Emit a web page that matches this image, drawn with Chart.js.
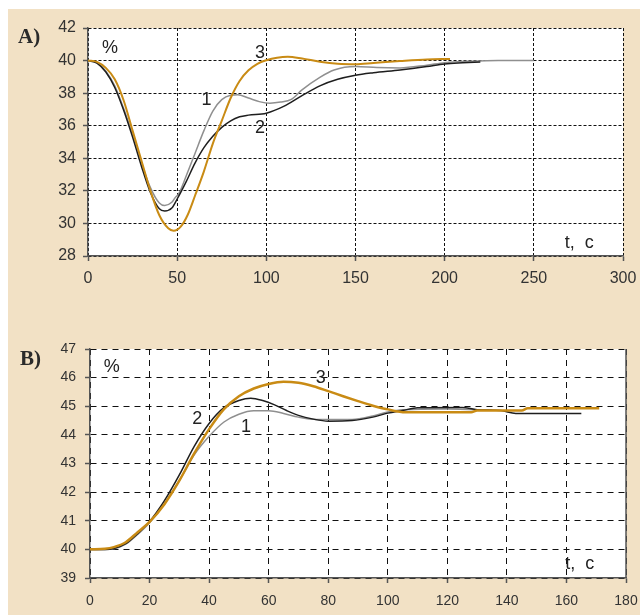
<!DOCTYPE html>
<html lang="ru">
<head>
<meta charset="UTF-8">
<title>Переходные процессы</title>
<style>
    body { margin: 0; width: 640px; height: 615px; background: #ffffff; position: relative; overflow: hidden; }
    .panel { position: absolute; left: 8px; top: 9px; width: 632px; height: 606px; background: #F2E1C5; }
    canvas { position: absolute; left: 8px; }
    #chartA { top: 9px; }
    #chartB { top: 297px; }
    .tag { position: absolute; font-family: 'Liberation Serif', 'DejaVu Serif', serif; font-weight: bold; font-size: 21px; color: #2a2a2a; }
</style>
</head>
<body>
<div class="panel"></div>
<canvas id="chartA" width="632" height="288"></canvas>
<canvas id="chartB" width="632" height="318"></canvas>
<div class="tag" style="left:18px; top:24px;">A)</div>
<div class="tag" style="left:20px; top:346px;">B)</div>

<script src="https://cdn.jsdelivr.net/npm/chart.js"></script>
<script>
    // ---- график A ----
    const tA1 = [0, 5, 10, 15, 20, 25, 30, 35, 40, 43, 47, 49, 51, 55, 60, 65, 70, 75, 80, 84, 90, 96, 102, 108, 114, 120, 130, 138, 150, 162, 175, 190, 200, 215, 230, 250];
    const yA1 = [40, 39.87, 39.35, 38.45, 37.05, 35.45, 33.7, 32.2, 31.25, 31.1, 31.3, 31.6, 31.85, 32.9, 34.3, 35.7, 36.9, 37.6, 37.87, 37.9, 37.7, 37.48, 37.38, 37.45, 37.62, 38.2, 38.97, 39.42, 39.63, 39.57, 39.55, 39.72, 39.87, 39.96, 40.0, 40.0];

    const tA2 = [0, 5, 10, 15, 20, 25, 30, 35, 40, 43, 47, 50, 55, 60, 65, 70, 75, 80, 85, 90, 100, 110, 120, 130, 140, 150, 160, 175, 190, 200, 210, 220];
    const yA2 = [40, 39.85, 39.3, 38.35, 36.95, 35.3, 33.5, 31.9, 30.9, 30.77, 30.95, 31.5, 32.55, 33.7, 34.65, 35.35, 35.9, 36.3, 36.55, 36.65, 36.77, 37.2, 37.85, 38.45, 38.85, 39.1, 39.25, 39.42, 39.63, 39.79, 39.86, 39.91];

    const tA3 = [0, 5, 10, 15, 20, 25, 30, 35, 40, 45, 48, 52, 56, 60, 65, 70, 75, 80, 85, 90, 95, 100, 106, 112, 120, 130, 140, 150, 160, 175, 190, 203];
    const yA3 = [40, 39.92, 39.55, 38.85, 37.55, 35.7, 33.85, 32.0, 30.5, 29.7, 29.55, 29.8, 30.55, 31.7, 33.2, 34.9, 36.3, 37.7, 38.75, 39.4, 39.8, 40.02, 40.18, 40.24, 40.13, 39.93, 39.8, 39.77, 39.85, 39.97, 40.07, 40.1];

    // ---- график B ----
    const tB1 = [0, 5, 8, 12, 16, 20, 25, 30, 35, 40, 45, 50, 55, 60, 65, 70, 76, 88, 95, 100, 105, 120, 135];
    const yB1 = [40, 40.0, 40.02, 40.18, 40.52, 40.93, 41.6, 42.4, 43.3, 43.95, 44.45, 44.72, 44.84, 44.84, 44.75, 44.62, 44.54, 44.54, 44.66, 44.8, 44.88, 44.9, 44.86];

    const tB2 = [0, 5, 8, 12, 16, 20, 25, 30, 35, 40, 45, 50, 54, 58, 62, 66, 70, 75, 80, 88, 95, 100, 105, 110, 125, 130, 138, 143, 165];
    const yB2 = [40, 40.0, 40.03, 40.2, 40.55, 40.97, 41.7, 42.6, 43.6, 44.4, 44.95, 45.2, 45.28, 45.2, 45.05, 44.85, 44.68, 44.55, 44.48, 44.5, 44.62, 44.76, 44.85, 44.95, 44.96, 44.88, 44.85, 44.75, 44.75];

    const tB3 = [0, 5, 8, 12, 16, 20, 25, 30, 35, 40, 45, 50, 55, 60, 65, 70, 75, 80, 85, 90, 95, 100, 106, 128, 130, 145, 147, 171];
    const yB3 = [40, 40.02, 40.08, 40.25, 40.6, 40.96, 41.58, 42.4, 43.35, 44.2, 44.9, 45.35, 45.62, 45.78, 45.86, 45.82, 45.7, 45.53, 45.35, 45.18, 45.02, 44.89, 44.79, 44.79, 44.85, 44.85, 44.93, 44.93];

    const xTicksA = [0, 50, 100, 150, 200, 250, 300];
    const yTicksA = [28, 30, 32, 34, 36, 38, 40, 42];
    const xTicksB = [0, 20, 40, 60, 80, 100, 120, 140, 160, 180];
    const yTicksB = [39, 40, 41, 42, 43, 44, 45, 46, 47];

    const ORANGE = '#C98B14';
    const DARK = '#1e1e1e';
    const GRAY = '#8f8f8f';
    const FONT = "'Liberation Sans', Arial, sans-serif";

    function pts(ts, ys) {
        return ts.map((t, i) => ({ x: t, y: ys[i] }));
    }

    function line(data, color, width) {
        return {
            data: data,
            borderColor: color,
            borderWidth: width,
            pointRadius: 0,
            fill: false,
            cubicInterpolationMode: 'monotone'
        };
    }

    // подписи кривых и осей
    const notesPlugin = {
        id: 'notes',
        afterDatasetsDraw(chart, args, opts) {
            const ctx = chart.ctx;
            const sx = chart.scales.x, sy = chart.scales.y;
            ctx.save();
            ctx.fillStyle = '#222';
            ctx.font = opts.size + 'px ' + FONT;
            ctx.textAlign = 'center';
            ctx.textBaseline = 'middle';
            opts.items.forEach(n => {
                ctx.fillText(n.text, sx.getPixelForValue(n.t), sy.getPixelForValue(n.v));
            });
            ctx.restore();
        }
    };

    // сплошная правая граница (для графика B)
    const rightEdge = {
        id: 'rightEdge',
        afterDraw(chart, args, opts) {
            if (!opts.on) return;
            const a = chart.chartArea, ctx = chart.ctx;
            ctx.save();
            ctx.strokeStyle = '#555';
            ctx.lineWidth = 1.5;
            ctx.beginPath();
            ctx.moveTo(a.right, a.top);
            ctx.lineTo(a.right, a.bottom);
            ctx.stroke();
            ctx.restore();
        }
    };

    function makeChart(id, sets, cfg) {
        new Chart(document.getElementById(id), {
            type: 'line',
            data: { datasets: sets },
            options: {
                responsive: false,
                animation: false,
                devicePixelRatio: 1,
                layout: { padding: cfg.padding },
                plugins: {
                    legend: { display: false },
                    tooltip: { enabled: false },
                    notes: { items: cfg.notes, size: 18 },
                    rightEdge: { on: cfg.solidRight }
                },
                scales: {
                    x: {
                        type: 'linear',
                        min: cfg.xTicks[0],
                        max: cfg.xTicks[cfg.xTicks.length - 1],
                        afterBuildTicks: s => { s.ticks = cfg.xTicks.map(v => ({ value: v })); },
                        afterFit: s => {
                            s.height = cfg.xHeight;
                            s.paddingLeft = 0;
                            s.paddingRight = 0;
                        },
                        ticks: {
                            maxRotation: 0, autoSkip: false, padding: cfg.xPad,
                            color: '#333', font: { family: FONT, size: cfg.fontSize }
                        },
                        grid: { color: '#111', lineWidth: 1, tickLength: 5, tickColor: '#555', tickWidth: 1.5 },
                        border: { display: true, color: '#555', width: 1.5, dash: cfg.dash }
                    },
                    y: {
                        min: cfg.yTicks[0],
                        max: cfg.yTicks[cfg.yTicks.length - 1],
                        afterBuildTicks: s => { s.ticks = cfg.yTicks.map(v => ({ value: v })); },
                        afterFit: s => {
                            s.width = cfg.yWidth;
                            s.paddingTop = 0;
                            s.paddingBottom = 0;
                        },
                        ticks: {
                            padding: cfg.yPad,
                            color: '#333', font: { family: FONT, size: cfg.fontSize }
                        },
                        grid: { color: '#111', lineWidth: 1, tickLength: 5, tickColor: '#555', tickWidth: 1.5 },
                        border: { display: true, color: '#555', width: 1.5, dash: cfg.dash }
                    }
                }
            },
            plugins: [
                {
                    id: 'plotBg',
                    beforeDraw(chart) {
                        const a = chart.chartArea;
                        chart.ctx.save();
                        chart.ctx.fillStyle = '#ffffff';
                        chart.ctx.fillRect(a.left, a.top, a.right - a.left, a.bottom - a.top);
                        chart.ctx.restore();
                    }
                },
                notesPlugin,
                rightEdge
            ]
        });
    }

    makeChart('chartA', [
        line(pts(tA3, yA3), ORANGE, 2),
        line(pts(tA2, yA2), DARK, 1.5),
        line(pts(tA1, yA1), GRAY, 1.5)
    ], {
        xTicks: xTicksA, yTicks: yTicksA,
        padding: { top: 19, right: 17, left: 0, bottom: 0 },
        yWidth: 80, xHeight: 41, xPad: 8, yPad: 7, fontSize: 16,
        dash: [3, 2], solidRight: false,
        notes: [
            { text: '%', t: 12.3, v: 40.77 },
            { text: '1', t: 66.5, v: 37.58 },
            { text: '2', t: 96.5, v: 35.84 },
            { text: '3', t: 96.5, v: 40.45 },
            { text: 't,  c', t: 275.5, v: 28.82 }
        ]
    });

    makeChart('chartB', [
        line(pts(tB3, yB3), ORANGE, 2.5),
        line(pts(tB2, yB2), DARK, 1.5),
        line(pts(tB1, yB1), GRAY, 1.5)
    ], {
        xTicks: xTicksB, yTicks: yTicksB,
        padding: { top: 52, right: 14, left: 0, bottom: 0 },
        yWidth: 82, xHeight: 37, xPad: 10, yPad: 9, fontSize: 14,
        dash: [6, 5], solidRight: true,
        notes: [
            { text: '%', t: 7.3, v: 46.38 },
            { text: '1', t: 52.4, v: 44.26 },
            { text: '2', t: 36, v: 44.54 },
            { text: '3', t: 77.5, v: 45.97 },
            { text: 't,  c', t: 164.5, v: 39.48 }
        ]
    });
</script>
</body>
</html>
